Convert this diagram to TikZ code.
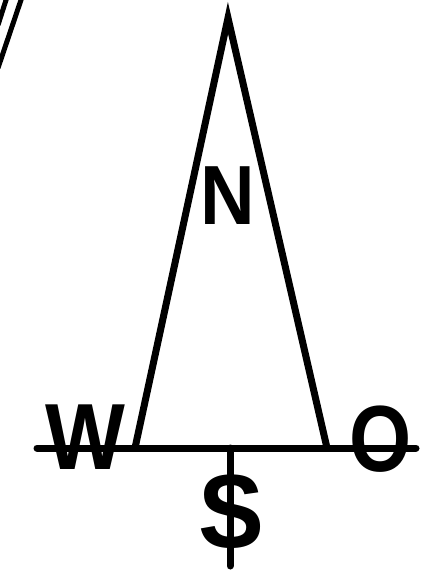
\documentclass[tikz,border=0pt]{standalone}
\usepackage{fontspec}
\setmainfont{Liberation Sans}
\usetikzlibrary{positioning}

\begin{document}
\begin{tikzpicture}[x=1pt,y=-1pt,
      ink/.style={line width=7pt,line cap=round},
      thin ink/.style={line width=5pt},
      letter/.style={inner sep=0pt,font=\bfseries\fontsize{#1}{#1}\selectfont}
    ]
      \useasboundingbox (0,0) rectangle (429,583);
      \coordinate (top) at (228,18);
      \coordinate (bl) at (135,448);
      \coordinate (br) at (327,448);
      \coordinate (wend) at (37,448);
      \coordinate (oend) at (416,448);
      \coordinate (mid) at (230,448);
      \coordinate (send) at (230,566);
      \node[letter=84,xscale=0.9] (N) at (228,196) {N};
      \node[letter=94,xscale=0.9] (W) at (85,437) {W};
      \node[letter=94,xscale=0.85] (O) at (381,439) {O};
      \node[letter=104,xscale=0.95] (S) at (231,512) {S};
      \draw[ink] (bl) -- (top) -- (br);
      \draw[ink] (wend) -- (oend);
      \draw[ink] (mid) -- (send);
      % edge marks top left
      \draw[thin ink] (7,-3) -- (-2,25);
      \draw[thin ink] (22,-3) -- (-2,68);
    \end{tikzpicture}
\end{document}
